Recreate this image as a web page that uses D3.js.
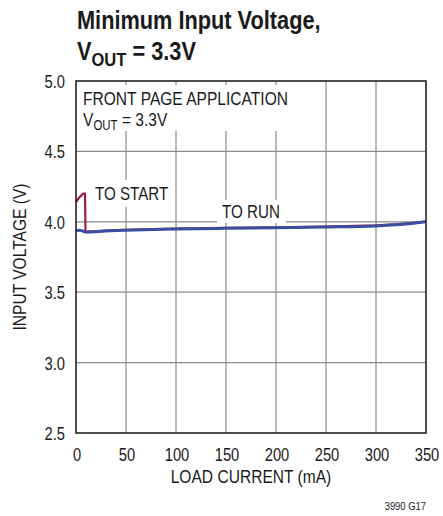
<!DOCTYPE html>
<html>
<head>
<meta charset="utf-8">
<script src="https://cdn.jsdelivr.net/npm/d3@7"></script>
<style>
body { margin: 0; background: #fff; }
svg text { font-family: "Liberation Sans", Arial, sans-serif; fill: #1a1a1a; }
</style>
</head>
<body>
<div id="chart"></div>
<script>
// datos
var x_ticks = [0, 50, 100, 150, 200, 250, 300, 350];
var y_ticks = [2.5, 3.0, 3.5, 4.0, 4.5, 5.0];

// curva "to run" (azul)
var run_current = [0, 3, 6, 10, 30, 50, 100, 150, 200, 250, 300, 320, 335, 350];
var run_voltage = [3.935, 3.94, 3.936, 3.927, 3.935, 3.94, 3.948, 3.954, 3.958, 3.963, 3.971, 3.979, 3.988, 4.0];

// curva "to start" (roja)
var start_current = [0, 3, 7, 9, 9.5, 12, 30, 50, 100, 150, 200, 250, 300, 320, 335, 350];
var start_voltage = [4.14, 4.17, 4.2, 4.2, 3.925, 3.93, 3.938, 3.943, 3.951, 3.957, 3.961, 3.966, 3.974, 3.982, 3.99, 4.002];

var svg_w = 443, svg_h = 516;
var m_left = 76, m_right = 426, m_top = 81, m_bottom = 433;
var narrow = 0.82; // imita la fuente condensada

var svg = d3.select("#chart").append("svg")
	.attr("width", svg_w)
	.attr("height", svg_h);

var x = d3.scaleLinear().domain([0, 350]).range([m_left, m_right]);
var y = d3.scaleLinear().domain([2.5, 5.0]).range([m_bottom, m_top]);

// texto comprimido horizontalmente
function label(px, py, size, anchor, sx, rot) {
	var tr = "translate(" + px + "," + py + ")" + (rot ? " rotate(" + rot + ")" : "") + " scale(" + sx + ",1)";
	return svg.append("text")
		.attr("transform", tr)
		.attr("text-anchor", anchor)
		.style("font-size", size + "px");
}

// titulo
label(77, 29, 25, "start", 0.87).style("font-weight", "bold").text("Minimum Input Voltage,");
var t2 = label(77, 60, 25, "start", 0.87).style("font-weight", "bold");
t2.append("tspan").text("V");
t2.append("tspan").attr("dy", 6).style("font-size", "19px").text("OUT");
t2.append("tspan").attr("dy", -6).text(" = 3.3V");

// rejilla
svg.append("g").selectAll("line")
	.data(x_ticks.slice(1, -1))
	.enter().append("line")
	.attr("x1", function(d) { return x(d); })
	.attr("x2", function(d) { return x(d); })
	.attr("y1", m_top).attr("y2", m_bottom)
	.attr("stroke", "#8a8a8a").attr("stroke-width", 1.2);

svg.append("g").selectAll("line")
	.data(y_ticks.slice(1, -1))
	.enter().append("line")
	.attr("x1", m_left).attr("x2", m_right)
	.attr("y1", function(d) { return y(d); })
	.attr("y2", function(d) { return y(d); })
	.attr("stroke", "#8a8a8a").attr("stroke-width", 1.2);

// cajas blancas detras de los textos
function white_box(x0, y0, w, h) {
	svg.append("rect")
		.attr("x", x0).attr("y", y0)
		.attr("width", w).attr("height", h)
		.attr("fill", "#fff");
}
white_box(m_left + 2, m_top + 4, 218, 46);
white_box(92, 180, 80, 27);
white_box(217, 200, 69, 23);

// lineas
var run_data = run_current.map(function(c, i) { return [c, run_voltage[i]]; });
var start_data = start_current.map(function(c, i) { return [c, start_voltage[i]]; });

svg.append("path")
	.datum(start_data)
	.attr("d", d3.line()
		.x(function(d) { return x(d[0]); })
		.y(function(d) { return y(d[1]); }))
	.attr("fill", "none")
	.attr("stroke", "#9c1c45")
	.attr("stroke-width", 2.2)
	.attr("stroke-linejoin", "round");

svg.append("path")
	.datum(run_data)
	.attr("d", d3.line()
		.x(function(d) { return x(d[0]); })
		.y(function(d) { return y(d[1]); })
		.curve(d3.curveMonotoneX))
	.attr("fill", "none")
	.attr("stroke", "#3b4da0")
	.attr("stroke-width", 3);

// marco
svg.append("rect")
	.attr("x", m_left).attr("y", m_top)
	.attr("width", m_right - m_left).attr("height", m_bottom - m_top)
	.attr("fill", "none")
	.attr("stroke", "#222").attr("stroke-width", 1.6);

// textos dentro
label(83, 105, 19, "start", narrow).text("FRONT PAGE APPLICATION");
var v2 = label(83, 126, 19, "start", narrow);
v2.append("tspan").text("V");
v2.append("tspan").attr("dy", 4).style("font-size", "14px").text("OUT");
v2.append("tspan").attr("dy", -4).text(" = 3.3V");

label(95, 200, 18.5, "start", narrow).text("TO START");
label(222, 218, 18.5, "start", narrow).text("TO RUN");

// ejes
x_ticks.forEach(function(d) {
	label(x(d) + 1, 461, 18, "middle", narrow).text(d);
});
y_ticks.forEach(function(d) {
	label(65, y(d) + 7, 18, "end", narrow).text(d3.format(".1f")(d));
});

label(251, 483, 19, "middle", narrow).text("LOAD CURRENT (mA)");
label(26, (m_top + m_bottom) / 2, 19, "middle", narrow, -90).text("INPUT VOLTAGE (V)");

label(426, 510, 11.5, "end", narrow).text("3990 G17");
</script>
</body>
</html>
